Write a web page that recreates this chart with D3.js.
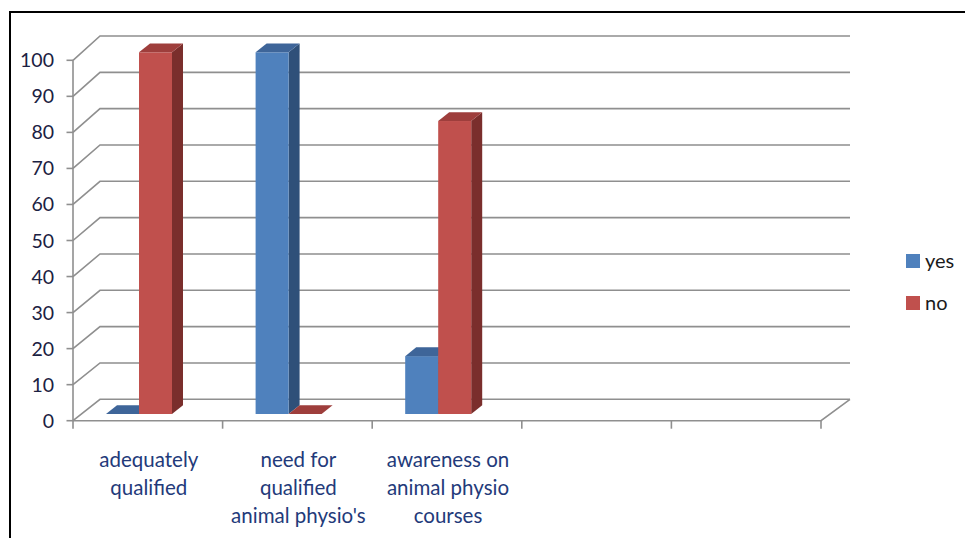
<!DOCTYPE html>
<html>
<head>
<meta charset="utf-8">
<script src="https://cdn.jsdelivr.net/npm/d3@7"></script>
<style>
  html, body { margin: 0; padding: 0; background: #fff; }
  svg { display: block; font-family: "Lato", "Liberation Sans", sans-serif; }
</style>
</head>
<body>
<div id="chart"></div>
<script>
// categories (the last two slots are empty in the original chart)
const categories = [
    ["adequately", "qualified"],
    ["need for", "qualified", "animal physio's"],
    ["awareness on", "animal physio", "courses"],
    [],
    []
];
const series = ["yes", "no"];
const yesValues = [0, 100, 16];
const noValues = [100, 0, 81];
const yTicks = [0, 10, 20, 30, 40, 50, 60, 70, 80, 90, 100];

const width = 965;
const height = 538;

// colours per series: front, top, side
const colors = {
    yes: { front: "#4F81BD", top: "#3E6599", side: "#2F5079" },
    no: { front: "#C0504D", top: "#9E3E3C", side: "#7A2E2C" }
};

const svg = d3.select("#chart")
    .append("svg")
    .attr("width", width)
    .attr("height", height);

// frame (only left and top visible)
svg.append("path")
    .attr("d", "M10,538 L10,12 L965,12")
    .attr("fill", "none")
    .attr("stroke", "#000")
    .attr("stroke-width", 2);

// 3D box: front plane and back wall
const xFront = d3.scaleBand().domain(d3.range(categories.length)).range([73, 821]);
const yFront = d3.scaleLinear().domain([0, 100]).range([420.7, 60.3]);
const yBack = d3.scaleLinear().domain([0, 100]).range([399.3, 36]);
const depthX = 27;
const xBackLeft = 73 + depthX;
const xBackRight = 821 + depthX + 2;

const gridColor = "#8f8f8f";

// gridlines: diagonal on the left wall + horizontal on the back wall
const grid = svg.append("g")
    .attr("fill", "none")
    .attr("stroke", gridColor)
    .attr("stroke-width", 1.6);

grid.selectAll("path.grid")
    .data(yTicks)
    .enter()
    .append("path")
    .attr("class", "grid")
    .attr("d", v => `M73,${yFront(v)} L${xBackLeft},${yBack(v)} L${xBackRight},${yBack(v)}`);

// floor front edge and right diagonal
grid.append("path")
    .attr("d", `M73,${yFront(0)} L821,${yFront(0)} L${xBackRight},${yBack(0)}`);

// vertical axis line
grid.append("path")
    .attr("d", `M73,${yFront(0)} L73,${yFront(100)}`);

// y ticks
grid.selectAll("path.ytick")
    .data(yTicks)
    .enter()
    .append("path")
    .attr("class", "ytick")
    .attr("d", v => `M66.5,${yFront(v)} L73,${yFront(v)}`);

// category ticks
const catEdges = d3.range(categories.length + 1).map(i => 73 + i * xFront.step());
grid.selectAll("path.xtick")
    .data(catEdges)
    .enter()
    .append("path")
    .attr("class", "xtick")
    .attr("d", x => `M${x},${yFront(0)} L${x},${yFront(0) + 8}`);

// y tick labels
svg.append("g")
    .selectAll("text")
    .data(yTicks)
    .enter()
    .append("text")
    .attr("x", 54)
    .attr("y", v => yFront(v))
    .attr("dy", "0.36em")
    .attr("text-anchor", "end")
    .attr("font-size", 19.5)
    .attr("fill", "#1b2142")
    .text(d => d);

// category labels
const catLabels = svg.append("g")
    .attr("font-size", 20.5)
    .attr("fill", "#233A7A")
    .attr("text-anchor", "middle");

categories.forEach((lines, i) => {
    const cx = xFront(i) + xFront.bandwidth() / 2 + 1;
    const t = catLabels.append("text")
        .attr("x", cx)
        .attr("y", 466.5);
    lines.forEach((line, j) => {
        t.append("tspan")
            .attr("x", cx)
            .attr("dy", j === 0 ? 0 : 28)
            .text(line);
    });
});

// bars (drawn in a plane a bit behind the front)
const yBar = d3.scaleLinear().domain([0, 100]).range([414, 52.3]);
const xSub = d3.scaleBand().domain(series).range([33, 99]).padding(0);
const barDx = 11;
const barDy = -8.8;

const barData = [];
yesValues.forEach((v, i) => {
    barData.push({ cat: i, key: "yes", value: v });
    barData.push({ cat: i, key: "no", value: noValues[i] });
});

const bars = svg.append("g");
barData.forEach(d => {
    const x0 = xFront(d.cat) + xSub(d.key);
    const x1 = x0 + xSub.bandwidth();
    const y0 = yBar(0);
    const y1 = yBar(d.value);
    const c = colors[d.key];
    const g = bars.append("g");
    if (d.value > 0) {
        // side face
        g.append("path")
            .attr("d", `M${x1},${y1} L${x1 + barDx},${y1 + barDy} L${x1 + barDx},${y0 + barDy} L${x1},${y0} Z`)
            .attr("fill", c.side);
        // front face
        g.append("rect")
            .attr("x", x0)
            .attr("y", y1)
            .attr("width", x1 - x0)
            .attr("height", y0 - y1)
            .attr("fill", c.front);
    }
    // top face
    g.append("path")
        .attr("d", `M${x0},${y1} L${x0 + barDx},${y1 + barDy} L${x1 + barDx},${y1 + barDy} L${x1},${y1} Z`)
        .attr("fill", c.top);
});

// legend
const legend = svg.append("g")
    .selectAll("g")
    .data(series)
    .enter()
    .append("g")
    .attr("transform", (d, i) => `translate(906,${254 + i * 42})`);

legend.append("rect")
    .attr("width", 14)
    .attr("height", 14)
    .attr("fill", d => colors[d].front);

legend.append("text")
    .attr("x", 19)
    .attr("y", 13.5)
    .attr("font-size", 20)
    .attr("fill", "#1b1b1b")
    .text(d => d);
</script>
</body>
</html>
